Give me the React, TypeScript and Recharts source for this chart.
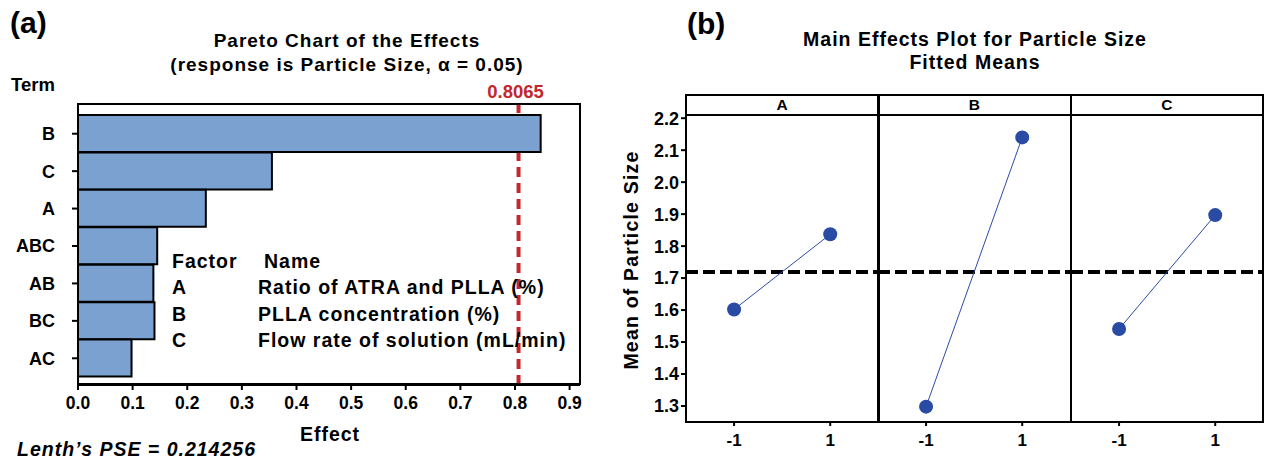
import React from 'react';
import { BarChart, Bar, XAxis, YAxis, ReferenceLine, LineChart, Line } from 'recharts';

// ---------- Data ----------
const terms = ['B', 'C', 'A', 'ABC', 'AB', 'BC', 'AC'];
const effects = [0.847, 0.355, 0.234, 0.145, 0.138, 0.14, 0.098];
const effectTicks = [0, 0.1, 0.2, 0.3, 0.4, 0.5, 0.6, 0.7, 0.8, 0.9];
const criticalEffect = 0.8065;
const lenthPSE = '0.214256';

const factorCodes = ['A', 'B', 'C'];
const factorNames = ['Ratio of ATRA and PLLA (%)', 'PLLA concentration (%)', 'Flow rate of solution (mL/min)'];

const levels = [-1, 1];
const meansA = [1.602, 1.837];
const meansB = [1.298, 2.14];
const meansC = [1.541, 1.897];
const meanTicks = [1.3, 1.4, 1.5, 1.6, 1.7, 1.8, 1.9, 2.0, 2.1, 2.2];
const grandMean = 1.719;

const FONT = '"Liberation Sans", Arial, Helvetica, sans-serif';
const BLUE_BAR = '#7BA1D1';
const RED = '#C1272D';
const DOT_BLUE = '#2A4BA3';

const paretoData = terms.map((t, i) => ({ term: t, effect: effects[i] }));
const panels = [
  { name: 'A', data: levels.map((x, i) => ({ x, y: meansA[i] })) },
  { name: 'B', data: levels.map((x, i) => ({ x, y: meansB[i] })) },
  { name: 'C', data: levels.map((x, i) => ({ x, y: meansC[i] })) },
];

type TxtProps = {
  x: number; y: number; children: React.ReactNode; size?: number; anchor?: 'start' | 'middle' | 'end';
  color?: string; italic?: boolean; ls?: number; rotate?: boolean;
};
const Txt = ({ x, y, children, size = 16, anchor = 'start', color = '#000', italic, ls = 0, rotate }: TxtProps) => {
  const tx = anchor === 'start' ? '0' : anchor === 'middle' ? '-50%' : '-100%';
  return (
    <div
      style={{
        position: 'absolute', left: x, top: y, fontFamily: FONT, fontWeight: 'bold', fontSize: size,
        lineHeight: 1, whiteSpace: 'nowrap', color, fontStyle: italic ? 'italic' : 'normal', letterSpacing: ls,
        transform: rotate ? 'translate(-50%,-50%) rotate(-90deg)' : `translate(${tx},-50%)`,
      }}
    >
      {children}
    </div>
  );
};

// right panel geometry
const PANEL_LEFT = 686;
const PANEL_W = 192.3;
const PLOT_TOP = 115;
const PLOT_BOTTOM = 422;
const Y_AXIS_W = 80;
const TOP_PAD = 15;

export default function App() {
  return (
    <div style={{ position: 'absolute', left: 0, top: 0, width: 1264, height: 463, background: '#fff', overflow: 'hidden' }}>
      {/* ---------- (a) Pareto chart ---------- */}
      <div style={{ position: 'absolute', left: 0, top: 0 }}>
        <BarChart
          width={600}
          height={463}
          data={paretoData}
          layout="vertical"
          margin={{ top: 104, right: 20, bottom: 0, left: 0 }}
          barCategoryGap={0}
        >
          <XAxis
            type="number"
            dataKey="effect"
            domain={[0, 0.919]}
            ticks={effectTicks}
            interval={0}
            allowDataOverflow
            tickFormatter={(v: number) => v.toFixed(1)}
            height={78}
            tickSize={5}
            tickMargin={7}
            axisLine={{ stroke: '#000', strokeWidth: 2 }}
            tickLine={{ stroke: '#000', strokeWidth: 2 }}
            tick={{ fill: '#000', fontSize: 17.5, fontWeight: 'bold', fontFamily: FONT }}
          />
          <YAxis
            type="category"
            dataKey="term"
            width={78}
            interval={0}
            padding={{ top: 11, bottom: 8 }}
            tickSize={6}
            tickMargin={17}
            axisLine={{ stroke: '#000', strokeWidth: 2 }}
            tickLine={{ stroke: '#000', strokeWidth: 2 }}
            tick={{ fill: '#000', fontSize: 18, fontWeight: 'bold', fontFamily: FONT }}
          />
          <ReferenceLine
            x={criticalEffect}
            stroke={RED}
            strokeWidth={4}
            strokeDasharray="10 6"
            zIndex={250}
          />
          <Bar dataKey="effect" fill={BLUE_BAR} stroke="#000" strokeWidth={2} isAnimationActive={false} zIndex={300} />
        </BarChart>
      </div>
      {/* plot frame */}
      <div style={{ position: 'absolute', left: 77.3, top: 103, width: 503.7, height: 282, border: '2px solid #000', boxSizing: 'border-box', pointerEvents: 'none' }} />

      <Txt x={515.5} y={92} anchor="middle" size={18.5} color={RED}>{criticalEffect.toFixed(4)}</Txt>
      <Txt x={10} y={23} size={30}>(a)</Txt>
      <Txt x={347} y={40} anchor="middle" size={19} ls={1}>Pareto Chart of the Effects</Txt>
      <Txt x={347} y={64} anchor="middle" size={19} ls={1}>(response is Particle Size, α = 0.05)</Txt>
      <Txt x={11} y={85} size={18.5}>Term</Txt>
      <Txt x={330} y={435} anchor="middle" size={19.5} ls={1}>Effect</Txt>
      <Txt x={17} y={450} size={19.5} italic ls={1}>Lenth’s PSE = {lenthPSE}</Txt>

      <Txt x={172} y={262} size={19.5} ls={1}>Factor</Txt>
      <Txt x={264} y={262} size={19.5} ls={1}>Name</Txt>
      {factorCodes.map((c, i) => (
        <React.Fragment key={c}>
          <Txt x={172} y={288 + i * 26.5} size={19.5} ls={1}>{c}</Txt>
          <Txt x={258} y={288 + i * 26.5} size={19.5} ls={1}>{factorNames[i]}</Txt>
        </React.Fragment>
      ))}

      {/* ---------- (b) Main effects plot ---------- */}
      <Txt x={687} y={24} size={30}>(b)</Txt>
      <Txt x={975} y={40} anchor="middle" size={19.5} ls={1}>Main Effects Plot for Particle Size</Txt>
      <Txt x={975} y={63} anchor="middle" size={19.5} ls={1}>Fitted Means</Txt>
      <Txt x={632} y={260} size={19.5} rotate ls={1.2}>Mean of Particle Size</Txt>

      {panels.map((p, idx) => {
        const first = idx === 0;
        const left = PANEL_LEFT + idx * PANEL_W - (first ? Y_AXIS_W : 0);
        const width = PANEL_W + (first ? Y_AXIS_W : 0);
        return (
          <div key={p.name} style={{ position: 'absolute', left, top: PLOT_TOP - TOP_PAD }}>
            <LineChart
              width={width}
              height={PLOT_BOTTOM - PLOT_TOP + 40 + TOP_PAD}
              data={p.data}
              margin={{ top: TOP_PAD, right: 0, bottom: 0, left: 0 }}
            >
              <XAxis
                type="number"
                dataKey="x"
                domain={[-2, 2]}
                ticks={levels}
                interval={0}
                height={40}
                tickSize={4}
                tickMargin={8}
                axisLine={{ stroke: '#000', strokeWidth: 2 }}
                tickLine={{ stroke: '#000', strokeWidth: 2 }}
                tick={{ fill: '#000', fontSize: 17, fontWeight: 'bold', fontFamily: FONT }}
              />
              <YAxis
                type="number"
                domain={[1.25, 2.21]}
                ticks={meanTicks}
                interval={0}
                allowDataOverflow
                hide={!first}
                width={first ? Y_AXIS_W : 0}
                tickFormatter={(v: number) => v.toFixed(1)}
                tickSize={5}
                tickMargin={2}
                axisLine={{ stroke: '#000', strokeWidth: 2 }}
                tickLine={{ stroke: '#000', strokeWidth: 2 }}
                tick={{ fill: '#000', fontSize: 18, fontWeight: 'bold', fontFamily: FONT }}
              />
              <ReferenceLine y={grandMean} stroke="#000" strokeWidth={4} strokeDasharray="12 5" />
              <Line
                type="linear"
                dataKey="y"
                stroke={DOT_BLUE}
                strokeWidth={1}
                dot={{ r: 7, fill: DOT_BLUE, stroke: DOT_BLUE, strokeWidth: 0 }}
                isAnimationActive={false}
              />
            </LineChart>
          </div>
        );
      })}
      {/* panel frame with header strip */}
      <div style={{ position: 'absolute', left: PANEL_LEFT - 1, top: 94, width: 3 * PANEL_W + 2, height: PLOT_BOTTOM - 94 + 1, border: '2px solid #000', boxSizing: 'border-box', pointerEvents: 'none' }} />
      <div style={{ position: 'absolute', left: PANEL_LEFT - 1, top: 114, width: 3 * PANEL_W + 2, height: 2, background: '#000' }} />
      {[1, 2].map((k) => (
        <div key={k} style={{ position: 'absolute', left: PANEL_LEFT + k * PANEL_W - 1, top: 94, width: 2.5, height: PLOT_BOTTOM - 94 + 1, background: '#000' }} />
      ))}
      {panels.map((p, idx) => (
        <Txt key={p.name} x={PANEL_LEFT + (idx + 0.5) * PANEL_W} y={105} anchor="middle" size={15.5}>{p.name}</Txt>
      ))}
    </div>
  );
}
